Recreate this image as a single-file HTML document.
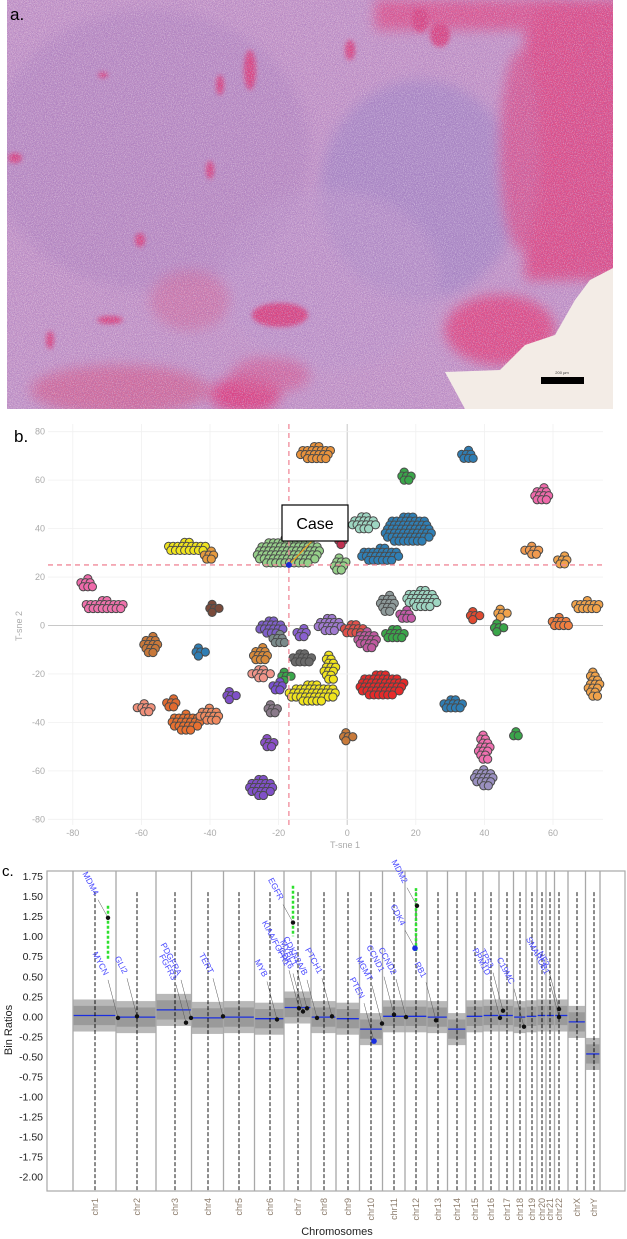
<!DOCTYPE html>
<html><head><meta charset="utf-8"><style>
html,body{margin:0;padding:0;background:#fff;width:627px;height:1239px;overflow:hidden}
svg{display:block;font-family:"Liberation Sans",sans-serif}
</style></head><body>
<svg id="root" width="627" height="1239" viewBox="0 0 627 1239">
<defs>
<filter id="tex" x="0" y="0" width="100%" height="100%">
<feTurbulence type="fractalNoise" baseFrequency="1.3" numOctaves="2" seed="3" result="n"/>
<feColorMatrix in="n" type="matrix" values="0 0 0 0 0.3  0 0 0 0 0.15  0 0 0 0 0.5  0 0 0 -2.2 1.35"/>
</filter>
<filter id="tex2" x="0" y="0" width="100%" height="100%">
<feTurbulence type="fractalNoise" baseFrequency="1.1" numOctaves="1" seed="9" result="n"/>
<feColorMatrix in="n" type="matrix" values="0 0 0 0 1  0 0 0 0 0.95  0 0 0 0 1  0 0 0 -2.5 1.35"/>
</filter>
<filter id="blur6"><feGaussianBlur stdDeviation="6"/></filter>
<filter id="blur3"><feGaussianBlur stdDeviation="2"/></filter>
<clipPath id="imgclip"><rect x="7" y="0" width="606" height="409"/></clipPath>
</defs>

<g clip-path="url(#imgclip)">
<rect x="7" y="0" width="606" height="409" fill="#c99ac8"/>
<g filter="url(#blur6)">
<ellipse cx="150" cy="150" rx="160" ry="140" fill="#b98cc2" opacity="0.7"/>
<ellipse cx="420" cy="190" rx="100" ry="110" fill="#a98cc6" opacity="0.8"/>
<ellipse cx="330" cy="280" rx="110" ry="90" fill="#c39bcc" opacity="0.6"/>
<rect x="525" y="0" width="100" height="280" fill="#e44b83"/>
<rect x="375" y="0" width="160" height="30" fill="#e2578d"/>
<ellipse cx="520" cy="150" rx="20" ry="100" fill="#dc5b92"/>
<ellipse cx="500" cy="330" rx="55" ry="35" fill="#e64c82"/>
<ellipse cx="245" cy="395" rx="35" ry="18" fill="#e4407e"/>
<ellipse cx="120" cy="390" rx="90" ry="25" fill="#d9628f" opacity="0.8"/>
<ellipse cx="270" cy="375" rx="40" ry="18" fill="#dd5a8e" opacity="0.7"/>
<ellipse cx="190" cy="300" rx="40" ry="30" fill="#d86b98" opacity="0.6"/>
</g>
<g fill="#e0407a" filter="url(#blur3)">
<ellipse cx="250" cy="70" rx="6" ry="20"/><ellipse cx="220" cy="85" rx="4" ry="10"/>
<ellipse cx="350" cy="50" rx="5" ry="10"/><ellipse cx="440" cy="35" rx="10" ry="12"/>
<ellipse cx="420" cy="20" rx="8" ry="12"/><ellipse cx="103" cy="75" rx="5" ry="3"/>
<ellipse cx="15" cy="158" rx="7" ry="5"/><ellipse cx="140" cy="240" rx="5" ry="7"/>
<ellipse cx="110" cy="320" rx="13" ry="4"/><ellipse cx="50" cy="340" rx="4" ry="9"/>
<ellipse cx="280" cy="315" rx="28" ry="12"/><ellipse cx="210" cy="170" rx="4" ry="9"/>
</g>
<rect x="7" y="0" width="606" height="409" filter="url(#tex)" opacity="0.7"/>
<rect x="7" y="0" width="606" height="409" filter="url(#tex2)" opacity="0.5"/>
<polygon points="613,268 590,280 575,300 555,335 525,345 500,370 445,372 465,409 613,409" fill="#f3ece6"/>
<rect x="541" y="377" width="43" height="7" fill="#000"/>
<text x="562" y="374" font-size="4" text-anchor="middle" fill="#333">200 µm</text>
</g>
<text x="10" y="20" font-size="17" fill="#000">a.</text>

<g id="pb"></g>
<text x="14" y="442" font-size="17" fill="#000">b.</text>

<g id="pc"></g>
<text x="2" y="876" font-size="15" fill="#000">c.</text>
</svg>
<script>
// ---------- Panel b data ----------
const clusterX = [-9,35,17,57,-17,-2,-47,-40,5,18,10,54,63,-76,-71,-39,12,22,17,37,45,44,70,62,-57,-43,-22,-20,-25,-13,-5,2,6,14,-13,-5,-10,10,-25,-18,-20,72,-59,-51,-34,-47,-40,31,-22,0,-23,49,40,40,-25,-2];
const clusterY = [71,70,61,54,30,25,32,29,42,39,29,31,27,17,8,7,9,11,4,4,5,-1,8,1,-8,-11,-1,-6,-12,-3,0,-2,-6,-4,-14,-18,-28,-25,-20,-21,-25,-25,-34,-32,-29,-40,-37,-33,-35,-46,-49,-45,-51,-63,-67,35];
const clusterRX = [4,2,1.5,2,8,1.5,5,2,3,6,5,2.5,2,2,5,1.5,2,4,2,1.5,1.5,1.5,3.5,2.5,2,1.5,3,2,2,2,3,3,2.5,3,3,1.5,6,6,3,1.5,2,1.5,2.5,2,1.5,3.5,2.5,3,1.5,1.5,1.5,1,1.5,2.5,3,1];
const clusterRY = [2.5,2,2,2.5,5,2.5,2,1.5,2.5,5,2.5,1.5,1.5,2,2,1.5,3,3,2,1.5,1.5,1.5,2,2,3,1.5,2.5,2,2.5,1.5,2.5,2,3,2,2,5,3,4,1.5,1.5,1.5,5,1.5,1.5,1.5,3,2.5,2,2,1.5,2,1,5,3,3,1.5];
const clusterColor = ["#e8923c","#2f7db3","#3aa64a","#ee6aaa","#96cf8a","#96cf8a","#f0e41e","#e69a3e","#9ed6c2","#2f7fb5","#2f7fb5","#f09a50","#f0a24a","#ee6aaa","#ef72ac","#7a4a3a","#8e9a9a","#9ed6c2","#c45aa8","#e04a30","#f0a24a","#3aa64a","#f0a24a","#f07e40","#c8783a","#2f7db3","#7e5fc8","#7a8a8a","#d88a3a","#8a60d0","#a07ad0","#e0504a","#c05aa0","#3aa64a","#6a6a6a","#f0e41e","#f0e41e","#e62a2a","#f0958a","#3aa64a","#7a50d0","#f0a24a","#f0907a","#e06a30","#8050c8","#e87030","#f08a60","#2f7db3","#8a7a8a","#c87a3a","#8a50c8","#3aa64a","#f070b0","#9a90c0","#8050c8","#c03050"];
const tsneTicks = [-80,-60,-40,-20,0,20,40,60];
const tsneYTicks = [-80,-60,-40,-20,0,20,40,60,80];
const caseX = -17, caseY = 25;

const NS="http://www.w3.org/2000/svg";
function mk(tag,attrs,parent){const e=document.createElementNS(NS,tag);for(const k in attrs)e.setAttribute(k,attrs[k]);parent.appendChild(e);return e;}
const bx = v => 347.2 + v*68.6/20;
const by = v => 625.5 - v*48.45/20;
const pb = document.getElementById('pb');
for(const t of tsneTicks){
  const l=mk('line',{x1:bx(t),x2:bx(t),y1:424,y2:825,stroke:t===0?'#c8c8c8':'#f0f0f0','stroke-width':t===0?1:0.8},pb);
  
  
  const tx=mk('text',{x:bx(t),y:836,'font-size':9,fill:'#aaa','text-anchor':'middle'},pb);tx.textContent=t;
  
  
}
for(const t of tsneYTicks){
  const l=mk('line',{x1:48,x2:603,y1:by(t),y2:by(t),stroke:t===0?'#c8c8c8':'#f0f0f0','stroke-width':t===0?1:0.8},pb);
  
  
  const tx=mk('text',{x:45,y:by(t)+3,'font-size':9,fill:'#aaa','text-anchor':'end'},pb);tx.textContent=t;
  
  
}
let xt=mk('text',{x:345,y:848,'font-size':9,fill:'#aaa','text-anchor':'middle'},pb);xt.textContent='T-sne 1';


let yt=mk('text',{x:22,y:626,'font-size':9,fill:'#aaa','text-anchor':'middle',transform:'rotate(-90 22 626)'},pb);yt.textContent='T-sne 2';


for(let i=0;i<clusterX.length;i++){
  const g=mk('g',{},pb);
  
  
  const rxp=clusterRX[i]*68.6/20*1.15, ryp=clusterRY[i]*48.45/20*1.15, st=4.6;
  let row=0;
  for(let dy=-ryp;dy<=ryp+0.01;dy+=st*0.87,row++){
    for(let dx=-rxp+(row%2?st/2:0);dx<=rxp+0.01;dx+=st){
      if((dx*dx)/(rxp*rxp+1)+(dy*dy)/(ryp*ryp+1)>1.05)continue;
      const c=mk('circle',{cx:bx(clusterX[i])+dx,cy:by(clusterY[i])+dy,r:4.1,fill:clusterColor[i],stroke:'#4a4a4a','stroke-width':1},g);
      
      
    }
  }
}
let dl=mk('line',{x1:bx(caseX),x2:bx(caseX),y1:424,y2:825,stroke:'#f08a9a','stroke-width':1.3,'stroke-dasharray':'5,4'},pb);


dl=mk('line',{x1:48,x2:603,y1:by(caseY),y2:by(caseY),stroke:'#f08a9a','stroke-width':1.3,'stroke-dasharray':'5,4'},pb);


let cl=mk('line',{x1:bx(caseX),y1:by(caseY),x2:312,y2:541,stroke:'#f0a020','stroke-width':1.2},pb);


let cp=mk('circle',{cx:bx(caseX),cy:by(caseY),r:2.5,fill:'#1a2ad0',stroke:'#1a2ad0'},pb);


let cb=mk('rect',{x:282,y:505,width:66,height:36,fill:'#fff',stroke:'#000','stroke-width':1.2},pb);


let ct=mk('text',{x:315,y:529,'font-size':16,fill:'#000','text-anchor':'middle'},pb);ct.textContent='Case';



// ---------- Panel c data ----------
const chromNames = ["chr1","chr2","chr3","chr4","chr5","chr6","chr7","chr8","chr9","chr10","chr11","chr12","chr13","chr14","chr15","chr16","chr17","chr18","chr19","chr20","chr21","chr22","chrX","chrY"];
const chromCenters = [95,137,175,208,239,270,298,324,348,371,394,416,438,457,475,491,507,520,532,542,550,559,577,594];
const segValues = [0.01,-0.01,0.08,-0.02,-0.01,-0.03,0.11,-0.01,-0.03,-0.16,0.0,0.0,-0.01,-0.16,0.0,0.01,0.01,-0.01,0.0,0.01,0.01,0.01,-0.07,-0.47];
const geneNames = ["MDM4","MYCN","GLI2","FGFR3","PDGFRA","TERT","MYB","EGFR","KIAA/FGFR1","CDK6","MYBL1","CDKN2A/B","PTCH1","PTEN","MGMT","CCND1","CCND2","MDM2","CDK4","RB1","PPM1D","TP53","C19MC","NF2","SMARCB1"];
const genePos = [108,118,137,186,191,223,277,293,299,303,307,317,332,374,382,394,406,417,415,436,500,503,524,559,559];
const geneValues = [1.23,-0.02,0.0,-0.08,-0.02,0.0,-0.04,1.17,0.1,0.06,0.1,-0.02,0.0,-0.31,-0.09,0.02,-0.01,1.38,0.85,-0.05,-0.02,0.07,-0.13,0.09,-0.01];
const ampPos = [108,293,416];
const ampLow = [0.7,1.0,0.8];
const ampHigh = [1.38,1.63,1.6];
const cyTicks = [1.75,1.5,1.25,1.0,0.75,0.5,0.25,0,-0.25,-0.5,-0.75,-1.0,-1.25,-1.5,-1.75,-2.0];

const cx = u => u;
const cy = v => 1016.3 - v*80.1;
const pc=document.getElementById('pc');
let fr=mk('rect',{x:47,y:871,width:578,height:320,fill:'#fff',stroke:'#a8a8a8','stroke-width':1.2},pc);


const bounds=[73];
for(let i=0;i<chromCenters.length-1;i++)bounds.push((chromCenters[i]+chromCenters[i+1])/2);
bounds.push(600);
for(let i=0;i<chromNames.length;i++){
  const x0=cx(bounds[i]),x1=cx(bounds[i+1]),v=segValues[i];
  const b=mk('rect',{x:x0,y:cy(v+0.2),width:x1-x0,height:cy(v-0.2)-cy(v+0.2),fill:'#b8b8b8'},pc);
  
  
  const b2=mk('rect',{x:x0,y:cy(v+0.12),width:x1-x0,height:cy(v-0.12)-cy(v+0.12),fill:'#9a9a9a'},pc);
  
  
}
for(let i=0;i<chromNames.length;i++){
  const x0=cx(bounds[i]),x1=cx(bounds[i+1]),v=segValues[i];
  const s=mk('line',{x1:x0,x2:x1,y1:cy(v),y2:cy(v),stroke:'#1a2ee0','stroke-width':1.3},pc);
  
  
}
for(let i=0;i<bounds.length;i++){
  const l=mk('line',{x1:cx(bounds[i]),x2:cx(bounds[i]),y1:871,y2:1191,stroke:'#a8a8a8','stroke-width':1.3},pc);
  
  
}
for(let i=0;i<chromNames.length;i++){
  const x=cx(chromCenters[i]);
  const l=mk('line',{x1:x,x2:x,y1:cy(1.55),y2:1191,stroke:'#000','stroke-width':0.9,'stroke-dasharray':'4,2'},pc);
  
  
  const t=mk('text',{x:x+3,y:1198,'font-size':9,fill:'#8a7a6a','text-anchor':'end',transform:`rotate(-90 ${x+3} 1198)`},pc);t.textContent=chromNames[i];
  
  
}
for(const t of cyTicks){
  const tx=mk('text',{x:43,y:cy(t)+4,'font-size':10.5,fill:'#222','text-anchor':'end'},pc);tx.textContent=t.toFixed(2);
  
  
}
let cyt=mk('text',{x:12,y:1030,'font-size':11,fill:'#222','text-anchor':'middle',transform:'rotate(-90 12 1030)'},pc);cyt.textContent='Bin Ratios';


let cxt=mk('text',{x:337,y:1235,'font-size':11,fill:'#222','text-anchor':'middle'},pc);cxt.textContent='Chromosomes';


for(let i=0;i<ampPos.length;i++){
  const a=mk('line',{x1:cx(ampPos[i]),x2:cx(ampPos[i]),y1:cy(ampHigh[i]),y2:cy(ampLow[i]),stroke:'#2ee02e','stroke-width':2.5,'stroke-dasharray':'3,2'},pc);
  
  
}
for(let i=0;i<geneNames.length;i++){
  const x=cx(genePos[i]),y=cy(geneValues[i]);
  const blue=geneNames[i]==='PTEN'||geneNames[i]==='CDK4';
  const lx=x-14,ly=y-14-(geneValues[i]>0.5?8:28);
  const ll=mk('line',{x1:lx+4,y1:ly+4,x2:x,y2:y,stroke:'#555','stroke-width':0.5},pc);
  
  
  const d=mk('circle',{cx:x,cy:y,r:blue?2.8:2.2,fill:blue?'#1a2ee0':'#111'},pc);
  
  
  const t=mk('text',{x:lx,y:ly,'font-size':8.5,fill:'#4a4aff','text-anchor':'end',transform:`rotate(62 ${lx} ${ly})`},pc);t.textContent=geneNames[i];
  
  
}
</script>
</body></html>
